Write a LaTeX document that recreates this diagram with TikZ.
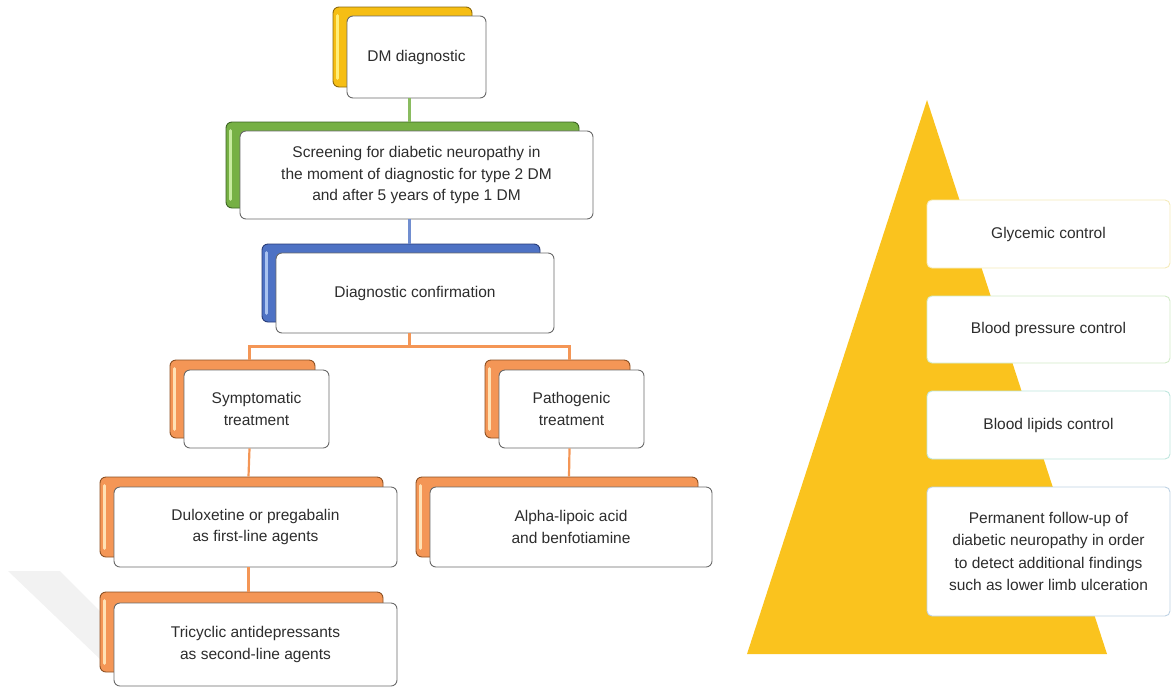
\documentclass[tikz,border=0pt]{standalone}
\usepackage{fontspec}
\setmainfont{Liberation Sans}
\usetikzlibrary{positioning,calc}
\definecolor{dmyellow}{RGB}{246,190,20}
\definecolor{dmyellowdark}{RGB}{140,105,10}
\definecolor{dmyellowlight}{RGB}{255,238,120}
\definecolor{scrgreen}{RGB}{118,176,68}
\definecolor{scrgreendark}{RGB}{60,100,35}
\definecolor{scrgreenlight}{RGB}{200,235,160}
\definecolor{cfblue}{RGB}{78,114,196}
\definecolor{cfbluedark}{RGB}{40,60,120}
\definecolor{cfbluelight}{RGB}{170,195,240}
\definecolor{trorange}{RGB}{244,150,86}
\definecolor{trorangedark}{RGB}{140,80,35}
\definecolor{trorangelight}{RGB}{255,225,180}
\definecolor{pyryellow}{RGB}{250,195,30}
\definecolor{framegray}{RGB}{105,105,105}
\definecolor{textgray}{RGB}{45,45,45}
\definecolor{rimyellow}{RGB}{245,235,185}
\definecolor{rimgreen}{RGB}{210,235,200}
\definecolor{rimteal}{RGB}{190,230,222}
\definecolor{rimblue}{RGB}{190,210,228}

\begin{document}
\begin{tikzpicture}[x=1pt, y=-1pt,
    front/.style={rectangle, rounded corners=6pt, draw=framegray, fill=white, line width=0.9pt, align=center, text=textgray, inner sep=0pt, font=\fontsize{15.5}{21.5}\selectfont},
    back/.style={rectangle, rounded corners=6pt, line width=0.9pt, inner sep=0pt},
    glint/.style={line width=3pt, line cap=round},
    link/.style={line width=2.2pt},
    sidebox/.style={rectangle, rounded corners=5pt, fill=white, line width=0.9pt, minimum width=243pt, align=center, text=textgray, inner sep=0pt, font=\fontsize{15.5}{22.5}\selectfont}
]
\useasboundingbox (0,0) rectangle (1174,689);

% Faint watermark
\fill[gray!10] (8,571) -- (60,571) -- (101,612) -- (101,660) -- cycle;

% Pyramid
\fill[pyryellow] (927,100) -- (1107,654) -- (747,654) -- cycle;

% DM diagnostic
\node[back, fill=dmyellow, draw=dmyellowdark, minimum width=139pt, minimum height=80pt] (dmback) at (402.5,47) {};
\draw[glint, dmyellowlight] ([xshift=5pt,yshift=-9pt]dmback.north west) -- ([xshift=5pt,yshift=9pt]dmback.south west);
\node[front, minimum width=139pt, minimum height=82pt] (dm) at (416.5,57) {DM diagnostic};

% Screening
\node[back, fill=scrgreen, draw=scrgreendark, minimum width=353pt, minimum height=86pt] (screenback) at (402.5,165) {};
\draw[glint, scrgreenlight] ([xshift=5pt,yshift=-9pt]screenback.north west) -- ([xshift=5pt,yshift=9pt]screenback.south west);
\node[front, minimum width=353pt, minimum height=88pt] (screen) at (416.5,175) {Screening for diabetic neuropathy in\\the moment of diagnostic for type 2 DM\\and after 5 years of type 1 DM};

% Diagnostic confirmation
\node[back, fill=cfblue, draw=cfbluedark, minimum width=278pt, minimum height=78pt] (confirmback) at (401,283) {};
\draw[glint, cfbluelight] ([xshift=5pt,yshift=-9pt]confirmback.north west) -- ([xshift=5pt,yshift=9pt]confirmback.south west);
\node[front, minimum width=278pt, minimum height=80pt] (confirm) at (415,293) {Diagnostic confirmation};

% Symptomatic treatment
\node[back, fill=trorange, draw=trorangedark, minimum width=145pt, minimum height=78pt] (sympback) at (242.5,399) {};
\draw[glint, trorangelight] ([xshift=5pt,yshift=-9pt]sympback.north west) -- ([xshift=5pt,yshift=9pt]sympback.south west);
\node[front, minimum width=145pt, minimum height=78pt] (symp) at (256.5,409) {Symptomatic\\treatment};

% Pathogenic treatment
\node[back, fill=trorange, draw=trorangedark, minimum width=145pt, minimum height=78pt] (pathoback) at (557.5,399) {};
\draw[glint, trorangelight] ([xshift=5pt,yshift=-9pt]pathoback.north west) -- ([xshift=5pt,yshift=9pt]pathoback.south west);
\node[front, minimum width=145pt, minimum height=78pt] (patho) at (571.5,409) {Pathogenic\\treatment};

% Duloxetine
\node[back, fill=trorange, draw=trorangedark, minimum width=283pt, minimum height=80pt] (duloxback) at (241.5,517) {};
\draw[glint, trorangelight] ([xshift=5pt,yshift=-9pt]duloxback.north west) -- ([xshift=5pt,yshift=9pt]duloxback.south west);
\node[front, minimum width=283pt, minimum height=80pt] (dulox) at (255.5,527) {Duloxetine or pregabalin\\as first-line agents};

% Tricyclic
\node[back, fill=trorange, draw=trorangedark, minimum width=283pt, minimum height=80pt] (tricyback) at (241.5,632) {};
\draw[glint, trorangelight] ([xshift=5pt,yshift=-9pt]tricyback.north west) -- ([xshift=5pt,yshift=9pt]tricyback.south west);
\node[front, minimum width=283pt, minimum height=83pt] (tricy) at (255.5,644.5) {Tricyclic antidepressants\\as second-line agents};

% Alpha-lipoic acid
\node[back, fill=trorange, draw=trorangedark, minimum width=282pt, minimum height=80pt] (alphaback) at (557,517) {};
\draw[glint, trorangelight] ([xshift=5pt,yshift=-9pt]alphaback.north west) -- ([xshift=5pt,yshift=9pt]alphaback.south west);
\node[front, minimum width=282pt, minimum height=80pt] (alpha) at (571,527) {Alpha-lipoic acid\\and benfotiamine};

% Connectors
\draw[link, scrgreen!85!white] ([xshift=-7pt]dm.south) -- ([xshift=7pt]screenback.north);
\draw[link, cfblue!80!white] ([xshift=-7pt]screen.south) -- ([xshift=8.5pt]confirmback.north);
\draw[link, trorange] ([xshift=-5.5pt]confirm.south) -- ++(0,13) -| ([xshift=7pt]sympback.north);
\draw[link, trorange] ([xshift=-5.5pt]confirm.south) -- ++(0,13) -| ([xshift=12pt]pathoback.north);
\draw[link, trorange] ([xshift=-7pt]symp.south) -- ([xshift=7pt]duloxback.north);
\draw[link, trorange] ([xshift=-7pt]dulox.south) -- ([xshift=7pt]tricyback.north);
\draw[link, trorange] ([xshift=-2pt]patho.south) -- ([xshift=12pt]alphaback.north);

% Pyramid levels
\node[sidebox, draw=rimyellow, minimum height=68pt] (glyc) at (1048.5,234) {Glycemic control};
\node[sidebox, draw=rimgreen, minimum height=67pt] (bp) at (1048.5,329.5) {Blood pressure control};
\node[sidebox, draw=rimteal, minimum height=68pt] (lipid) at (1048.5,425) {Blood lipids control};
\node[sidebox, draw=rimblue, minimum height=129pt] (follow) at (1048.5,551.5) {Permanent follow-up of\\diabetic neuropathy in order\\to detect additional findings\\such as lower limb ulceration};

\end{tikzpicture}
\end{document}
